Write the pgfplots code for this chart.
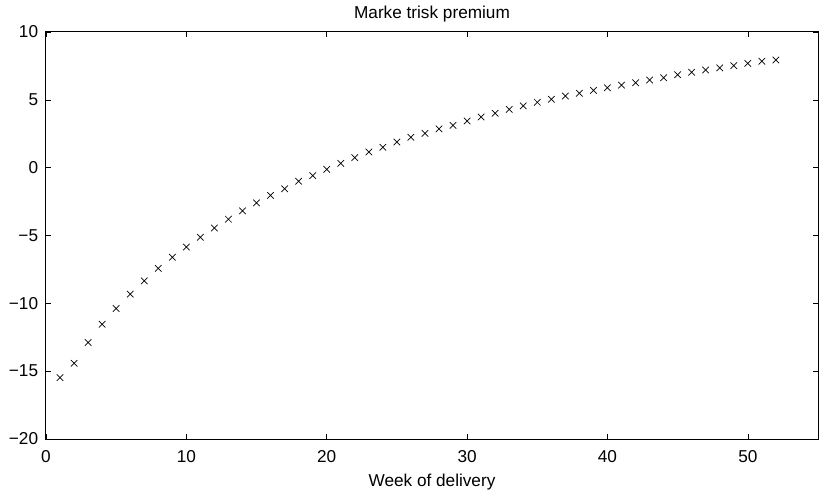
\documentclass[border=0pt]{standalone}
\usepackage{pgfplots}
\pgfplotsset{compat=1.18}
\usepackage{fontspec}
\setmainfont{Liberation Sans}
\begin{document}
\fontsize{17.2bp}{20bp}\selectfont
\begin{tikzpicture}
\begin{axis}[
  scale only axis,
  width=772bp, height=407bp,
  at={(0,0)}, anchor=south west,
  xmin=0, xmax=55, ymin=-20, ymax=10,
  xtick={0,10,20,30,40,50},
  ytick={-20,-15,-10,-5,0,5,10},
  yticklabels={−20,−15,−10,−5,0,5,10},
  tick align=inside,
  xtick pos=both, ytick pos=both,
  major tick length=5bp,
  tick style={black, line width=0.6bp},
  axis line style={black, line width=1bp},
  /pgf/number format/assume math mode=true,
  ticklabel style={font=\fontsize{17.2bp}{20bp}\selectfont},
  xticklabel style={anchor=base, inner sep=0pt, yshift=-23.7bp},
  yticklabel style={anchor=east, inner sep=0pt, xshift=-7.7bp},
  title={Marke trisk premium},
  every axis title/.style={at={(0.5,1)}, anchor=base, inner sep=0pt, yshift=13.7bp, font=\fontsize{17.2bp}{20bp}\selectfont},
  xlabel={Week of delivery},
  xlabel style={at={(0.5,0)}, anchor=base, inner sep=0pt, yshift=-47bp, font=\fontsize{17.2bp}{20bp}\selectfont},
  clip=false,
]
\addplot[only marks, mark=x, mark size=4.6bp, black, line width=0.7bp] coordinates {
(1,-15.47) (2,-14.42) (3,-12.89) (4,-11.54) (5,-10.38) (6,-9.32) (7,-8.34) (8,-7.42)
(9,-6.60) (10,-5.85) (11,-5.13) (12,-4.45) (13,-3.80) (14,-3.18) (15,-2.59) (16,-2.04)
(17,-1.56) (18,-1.00) (19,-0.59) (20,-0.12) (21,0.32) (22,0.74) (23,1.16) (24,1.50)
(25,1.89) (26,2.24) (27,2.53) (28,2.86) (29,3.12) (30,3.44) (31,3.74) (32,4.01)
(33,4.30) (34,4.55) (35,4.82) (36,5.04) (37,5.28) (38,5.48) (39,5.70) (40,5.89)
(41,6.08) (42,6.26) (43,6.46) (44,6.63) (45,6.85) (46,7.03) (47,7.20) (48,7.35)
(49,7.52) (50,7.69) (51,7.84) (52,7.94)
};
\end{axis}
\pgfresetboundingbox
\useasboundingbox (-46bp,-54bp) rectangle (774bp,439bp);
\end{tikzpicture}
\end{document}
